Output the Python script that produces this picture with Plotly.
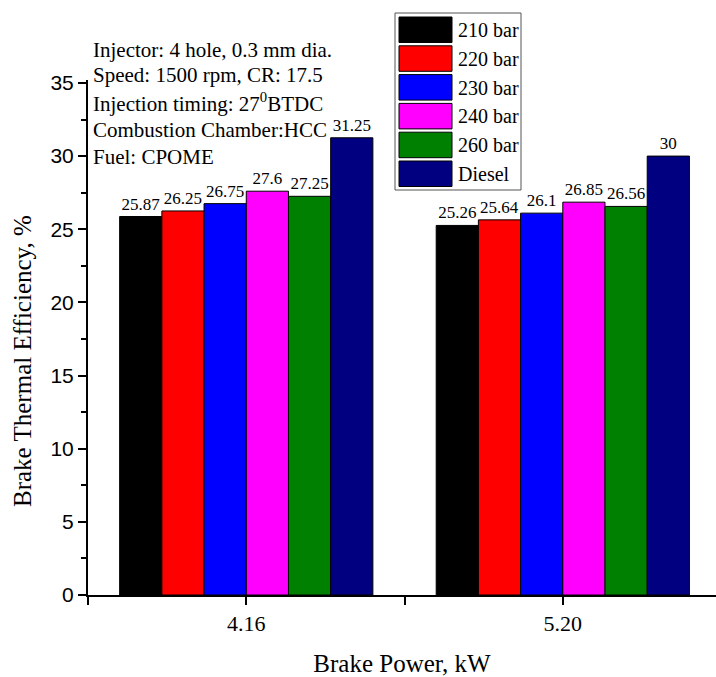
import plotly.graph_objects as go

# Brake power levels (kW) and injection pressure series
power_labels = ["4.16", "5.20"]
series_names = ["210 bar", "220 bar", "230 bar", "240 bar", "260 bar", "Diesel"]
series_colors = ["#000000", "#ff0000", "#0000ff", "#ff00ff", "#008000", "#000080"]
bte_210 = [25.87, 25.26]
bte_220 = [26.25, 25.64]
bte_230 = [26.75, 26.10]
bte_240 = [27.60, 26.85]
bte_260 = [27.25, 26.56]
bte_diesel = [31.25, 30.00]
series_values = [bte_210, bte_220, bte_230, bte_240, bte_260, bte_diesel]

notes = [
    "Injector: 4 hole, 0.3 mm dia.",
    "Speed: 1500 rpm, CR: 17.5",
    "Injection timing: 27<sup>0</sup>BTDC",
    "Combustion Chamber:HCC",
    "Fuel: CPOME",
]

W, H = 716, 677
ML, MR, MT, MB = 88, 0, 80, 82
PW, PH = W - ML - MR, H - MT - MB

SERIF = "Liberation Serif, Times New Roman, serif"
SANS = "Liberation Sans, Arial, sans-serif"


def px_x(x):
    return (x - ML) / PW


def px_y(y):
    return (H - MB - y) / PH


fig = go.Figure()
x_idx = list(range(len(power_labels)))
for name, color, vals in zip(series_names, series_colors, series_values):
    fig.add_trace(go.Bar(
        x=x_idx, y=vals, name=name,
        marker=dict(color=color, line=dict(color="black", width=1)),
        text=[f"{v:g}" for v in vals],
        textposition="outside", cliponaxis=False, constraintext="none",
        textfont=dict(family=SERIF, size=17, color="black"),
        showlegend=False,
    ))

# Legend box with large swatches
shapes = [dict(type="rect", xref="paper", yref="paper",
               x0=px_x(395), x1=px_x(521), y0=px_y(190), y1=px_y(13),
               line=dict(color="#555555", width=1), fillcolor="white", layer="below")]
annotations = []
row_h = 28.8
for i, (name, color) in enumerate(zip(series_names, series_colors)):
    top = 17 + i * row_h
    shapes.append(dict(type="rect", xref="paper", yref="paper",
                       x0=px_x(399), x1=px_x(452), y0=px_y(top + 25.5), y1=px_y(top),
                       line=dict(color="black", width=1), fillcolor=color, layer="above"))
    annotations.append(dict(xref="paper", yref="paper", x=px_x(456), y=px_y(top + 13),
                            text=name, showarrow=False, xanchor="left", yanchor="middle",
                            font=dict(family=SERIF, size=20, color="black")))

note_y = [50, 75, 102, 130, 157]
for t, yy in zip(notes, note_y):
    annotations.append(dict(xref="paper", yref="paper", x=px_x(91), y=px_y(yy),
                            text=t, showarrow=False, xanchor="left", yanchor="middle",
                            font=dict(family=SERIF, size=21, color="black")))

# Y-axis title
annotations.append(dict(xref="paper", yref="paper", x=px_x(22), y=px_y(361),
                        text="Brake Thermal Efficiency, %", textangle=-90, showarrow=False,
                        xanchor="center", yanchor="middle",
                        font=dict(family=SERIF, size=25, color="black")))

fig.update_layout(
    width=W, height=H,
    margin=dict(l=ML, r=MR, t=MT, b=MB),
    paper_bgcolor="white", plot_bgcolor="white",
    barmode="group", bargap=0.2, bargroupgap=0,
    shapes=shapes, annotations=annotations,
    showlegend=False,
    xaxis=dict(
        range=[-0.5, 1.484], tickvals=x_idx, ticktext=power_labels,
        showline=True, linecolor="black", linewidth=2,
        ticks="outside", ticklen=8, tickwidth=1.5, tickcolor="black",
        minor=dict(tickvals=[-0.5, 0.5], ticks="outside", ticklen=8,
                   tickwidth=1.5, tickcolor="black"),
        showgrid=False, zeroline=False,
        tickfont=dict(family=SERIF, size=22, color="black"),
        title=dict(text="Brake Power, kW", standoff=20,
                   font=dict(family=SERIF, size=25, color="black")),
    ),
    yaxis=dict(
        range=[0, 35.2], dtick=5, tick0=0,
        showline=True, linecolor="black", linewidth=2,
        ticks="outside", ticklen=8, tickwidth=1.5, tickcolor="black",
        minor=dict(dtick=2.5, ticks="outside", ticklen=5, tickwidth=1.5, tickcolor="black"),
        showgrid=False, zeroline=False,
        tickfont=dict(family=SANS, size=21, color="black"),
    ),
)

fig.write_html("out.html")
